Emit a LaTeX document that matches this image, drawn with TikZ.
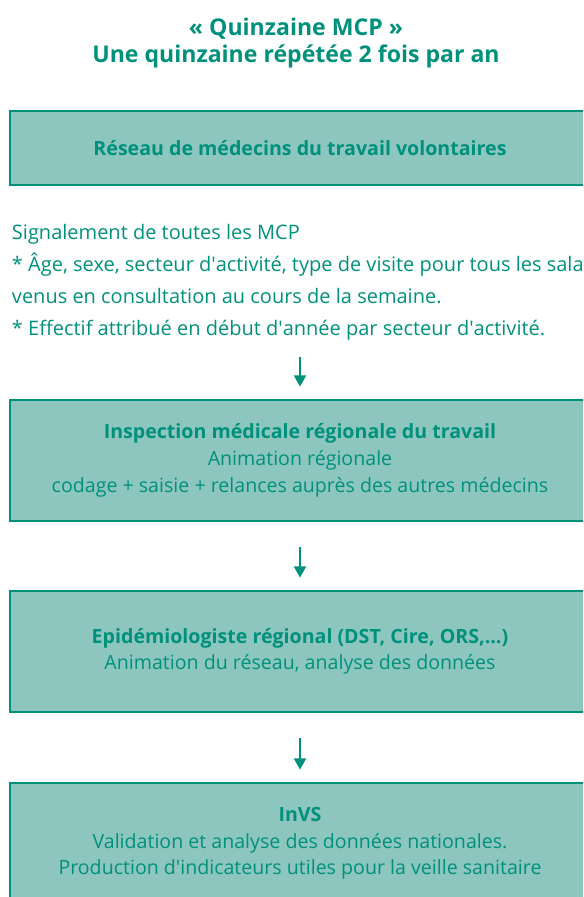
\documentclass[tikz,border=0pt]{standalone}
\usepackage{fontspec}
\setmainfont{Open Sans}
\usetikzlibrary{arrows.meta}
\definecolor{sarcelle}{HTML}{00917C}
\definecolor{fond}{HTML}{8DC6BE}
\newcommand{\apo}{\textquotesingle}
\begin{document}
\begin{tikzpicture}[x=0.75pt, y=-0.75pt,
  every node/.style={text=sarcelle, outer sep=0pt},
  boite/.style={draw=sarcelle, fill=fond, line width=2pt, minimum width=435pt, align=center, font=\fontsize{14.7}{20}\selectfont},
  fleche/.style={draw=sarcelle, line width=1.5pt, -{Triangle[width=9pt,length=8.5pt]}, shorten <=19.5pt, shorten >=10pt}]
\useasboundingbox (0,0) rectangle (583,897);
\clip (0,0) rectangle (583,897);

\node[align=center, font=\bfseries\fontsize{17.3}{20.5}\selectfont] (titre) at (296,43) {« Quinzaine MCP »\\Une quinzaine répétée 2 fois par an};

\node[boite, minimum height=55.5pt] (reseau) at (300,148) {\bfseries Réseau de médecins du travail volontaires};

\node[anchor=north west, inner sep=0pt, align=left, font=\fontsize{15}{24}\selectfont] (notes) at (12,224) {Signalement de toutes les MCP\\
* Âge, sexe, secteur d\apo activité, type de visite pour tous les salariés\\
venus en consultation au cours de la semaine.\\
* Effectif attribué en début d\apo année par secteur d\apo activité.};

\node[boite, minimum height=90.75pt] (inspection) at (300,460.5) {\textbf{Inspection médicale régionale du travail}\\Animation régionale\\codage + saisie + relances auprès des autres médecins};

\node[boite, minimum height=90.75pt] (epidemio) at (300,651.5) {\textbf{Epidémiologiste régional (DST, Cire, ORS,...)}\\Animation du réseau, analyse des données};

\node[boite, minimum height=90.75pt] (invs) at (300,843.5) {\textbf{InVS}\\Validation et analyse des données nationales.\\Production d\apo indicateurs utiles pour la veille sanitaire};

\draw[fleche, shorten <=13pt] (notes.south -| inspection.north) -- (inspection.north);
\draw[fleche] (inspection.south) -- (epidemio.north);
\draw[fleche] (epidemio.south) -- (invs.north);
\end{tikzpicture}
\end{document}
